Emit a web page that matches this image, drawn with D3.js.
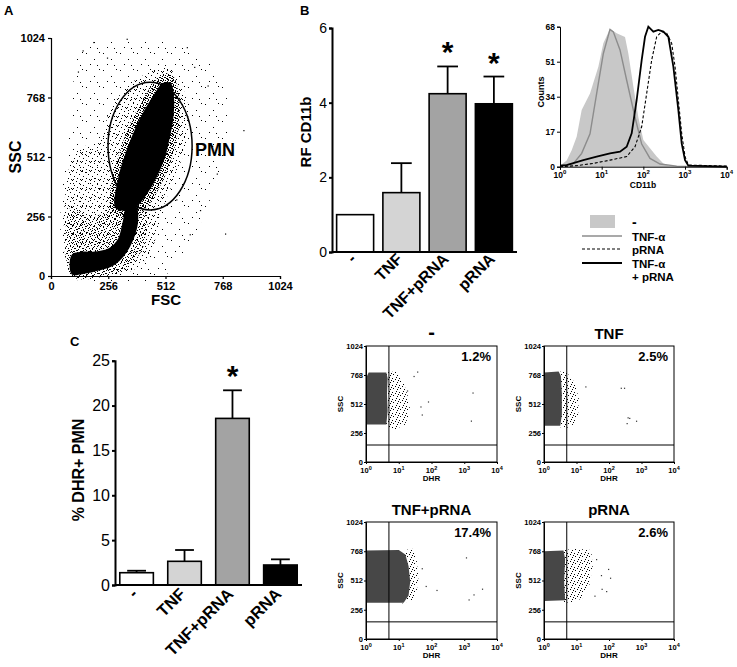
<!DOCTYPE html>
<html>
<head>
<meta charset="utf-8">
<script src="https://cdn.jsdelivr.net/npm/d3@7"></script>
<style>
  body { margin: 0; background: #fff; }
  text { font-family: "Liberation Sans", Arial, sans-serif; fill: #000; }
</style>
</head>
<body>
<svg id="fig" width="737" height="667"></svg>
<script>
// ---------- data ----------
var groups = ['-', 'TNF', 'TNF+pRNA', 'pRNA'];

// B: relative fluorescence CD11b (mean, SEM up)
var rfCd11b = [1.0, 1.59, 4.24, 3.97];
var rfCd11bErr = [0, 0.79, 0.73, 0.73];
var rfSig = [false, false, true, true];

// C: % DHR+ PMN
var dhrPct = [1.37, 2.64, 18.57, 2.23];
var dhrErr = [0.22, 1.26, 3.13, 0.63];
var dhrSig = [false, false, true, false];

// A: FSC / SSC events (contours in data units) and PMN gate [cx, cy, rx, ry]
var pmnGate = [443, 559, 188, 275];
var aCore = [[290,290],[300,420],[330,520],[370,620],[410,700],[460,780],[500,830],[535,830],
             [550,770],[547,680],[530,590],[510,510],[470,420],[420,340],[370,290]];
var aInner = [[270,280],[275,430],[310,540],[350,650],[400,740],[450,820],[500,870],[545,860],
              [570,790],[575,680],[560,580],[530,480],[490,390],[440,310],[380,260],[320,255]];
var aTail = [[92,8],[92,90],[140,105],[200,105],[260,120],[300,160],[320,230],[340,300],[380,300],
             [390,240],[370,160],[330,90],[280,45],[200,20],[140,8]];
var aLower = [[92,0],[92,300],[180,250],[260,300],[300,380],[350,350],[420,300],[430,200],
              [400,100],[330,30],[250,0]];
var aLeft = [[92,2],[92,500],[160,560],[240,480],[300,380],[330,200],[310,80],[200,15]];
var aHalo = [[92,4],[92,327],[130,470],[219,584],[264,713],[338,813],[428,871],[517,899],
             [562,856],[607,756],[607,584],[562,441],[502,298],[473,183],[443,97],[368,26],[219,4]];
var aSparse = [[92,0],[92,700],[150,990],[400,1010],[600,990],[760,850],[790,600],[700,300],[600,100],[500,0]];
var aOutliers = [[778,183],[666,284],[860,628],[741,441],[607,985],[338,1021],[189,1007],[141,971],
                 [700,820],[640,900],[250,940],[120,880],[720,560],[560,330],[620,180]];

// B inset: CD11b histograms, [log10 CD11b, counts]
var histCtrl = [[0,0.5],[0.16,3],[0.28,8],[0.4,14.6],[0.52,27.5],[0.72,35.6],[0.92,48.6],[1.04,60],
                [1.2,67],[1.36,64.8],[1.56,63],[1.64,55],[1.76,38.9],[1.88,24],[2.0,13],[2.16,9],
                [2.32,5],[2.48,1.6],[2.64,0.3],[2.8,0]];
var histTnf = [[0,0.5],[0.32,1.5],[0.52,6.5],[0.72,16],[0.88,35.6],[1.04,55],[1.2,66.7],[1.28,65.5],
               [1.44,56.7],[1.6,42],[1.8,24],[1.96,11],[2.16,4],[2.4,1.3],[2.8,0.3],[4,0]];
var histPrna = [[0,0],[0.4,0.5],[0.8,1.6],[1.2,3.2],[1.6,4.9],[1.8,9.7],[1.96,19.4],[2.08,35.6],
                [2.2,51.8],[2.32,63.1],[2.44,65.6],[2.56,64.8],[2.68,59.9],[2.76,48.6],[2.84,32.4],
                [2.92,16.2],[3.0,4.9],[3.08,0.8],[4,0.3]];
var histTnfPrna = [[0,0.5],[0.16,0.8],[0.56,3.2],[0.88,4.9],[1.2,6.5],[1.44,7.3],[1.6,9.7],[1.72,16.2],
                   [1.84,32.4],[1.96,51.8],[2.04,63.1],[2.12,68],[2.24,65.6],[2.36,66.4],[2.48,65.6],
                   [2.6,63.1],[2.72,48.6],[2.84,27.5],[2.92,11.3],[3.0,3.2],[3.08,0.5],[4,0]];
var histLegend = ['-', 'TNF-\u03b1', 'pRNA', 'TNF-\u03b1', '+ pRNA'];

// C: DHR / SSC dot plots, [log10 DHR, SSC]
var dotTitles = ['-', 'TNF', 'TNF+pRNA', 'pRNA'];
var dotPct = ['1.2%', '2.5%', '17.4%', '2.6%'];
var dotGate = [0.7, 150];
var dotDense = [
  [[0,330],[0,740],[0.08,790],[0.62,790],[0.66,740],[0.64,600],[0.66,450],[0.62,330]],
  [[0,320],[0,790],[0.45,800],[0.52,760],[0.55,600],[0.55,420],[0.5,320]],
  [[0,318],[0,774],[1.0,780],[1.2,740],[1.3,640],[1.35,500],[1.3,380],[1.15,318]],
  [[0,333],[0,768],[0.6,775],[0.65,700],[0.62,500],[0.65,340]]
];
var dotSpread = [
  [[0.55,320],[0.6,790],[0.9,800],[1.15,700],[1.3,560],[1.35,450],[1.2,330],[0.9,290]],
  [[0.45,310],[0.5,800],[0.7,790],[0.95,700],[1.07,560],[1.05,420],[0.9,330],[0.7,300]],
  [[1.1,310],[1.2,780],[1.45,790],[1.55,680],[1.6,540],[1.55,420],[1.4,340]],
  [[0.55,320],[0.6,780],[1.0,790],[1.45,780],[1.5,640],[1.4,480],[1.2,360],[0.9,320]]
];
var dotOutliers = [
  [[3.25,614],[3.2,366],[1.89,535],[1.56,799],[1.25,632],[1.66,491],[1.45,760],[1.7,420]],
  [[1.27,668],[2.36,656],[2.46,656],[2.57,395],[2.62,390],[2.83,365],[2.54,344]],
  [[3.05,715],[3.54,441],[3.13,347],[3.28,391],[2.15,430],[1.82,465],[1.7,620]],
  [[1.97,614],[1.77,440],[1.91,420],[2.03,537],[1.6,700],[1.75,560],[1.55,380]]
];

// ---------- setup ----------
var svg = d3.select('#fig');
var defs = svg.append('defs');
var barFill = ['#fff', '#d4d4d4', '#a3a3a3', '#000'];
var plain = d3.format('d');

// stipple patterns standing in for event density
function stipple(id, size, dots) {
  var p = defs.append('pattern').attr('id', id)
    .attr('patternUnits', 'userSpaceOnUse')
    .attr('width', size).attr('height', size);
  dots.forEach(function(d) {
    p.append('rect').attr('x', d[0]).attr('y', d[1])
      .attr('width', 1).attr('height', 1).attr('fill', '#000');
  });
}
stipple('stA0', 5, [[0,0],[2,1],[4,2],[1,3],[3,4],[0,2],[3,0],[2,3]]);
stipple('stA1', 7, [[0,0],[3,1],[5,3],[1,4],[4,6],[6,5],[2,2]]);
stipple('stA2', 9, [[0,0],[4,1],[7,3],[2,5],[5,7],[8,8],[1,8]]);
stipple('stA3', 17, [[1,2],[9,8],[14,1],[5,13],[12,14]]);
stipple('stD', 7, [[0,0],[3,1],[5,4],[1,3],[4,6],[6,2]]);

function label(g, x, y, txt, size, opts) {
  opts = opts || {};
  var t = g.append('text').attr('x', x).attr('y', y)
    .attr('font-size', size + 'px')
    .attr('font-weight', opts.weight || 'bold')
    .attr('text-anchor', opts.anchor || 'start')
    .text(txt);
  if (opts.rotate) t.attr('transform', 'rotate(' + opts.rotate + ',' + x + ',' + y + ')');
  return t;
}

function styleAxis(g, size, weight, width) {
  g.selectAll('path, line').attr('stroke', '#000').attr('stroke-width', width || 1);
  g.selectAll('text').attr('font-size', size + 'px').attr('font-weight', weight)
    .attr('font-family', '"Liberation Sans", Arial, sans-serif').attr('fill', '#000');
}

// ---------- panel A ----------
var gA = svg.append('g');
var ax = d3.scaleLinear().domain([0, 1024]).range([51, 280]);
var ay = d3.scaleLinear().domain([0, 1024]).range([276, 38]);
var blob = d3.line().x(function(d) { return ax(d[0]); }).y(function(d) { return ay(d[1]); })
  .curve(d3.curveCatmullRomClosed);

gA.append('path').datum(aSparse).attr('d', blob).attr('fill', 'url(#stA3)');
gA.append('path').datum(aHalo).attr('d', blob).attr('fill', 'url(#stA2)');
gA.append('path').datum(aLeft).attr('d', blob).attr('fill', 'url(#stA2)');
gA.append('path').datum(aLower).attr('d', blob).attr('fill', 'url(#stA1)');
gA.append('path').datum(aInner).attr('d', blob).attr('fill', 'url(#stA0)');
gA.append('path').datum(aTail).attr('d', blob).attr('fill', '#000');
gA.append('path').datum(aCore).attr('d', blob).attr('fill', '#000');
gA.selectAll('.out').data(aOutliers).enter().append('rect')
  .attr('x', function(d) { return ax(d[0]); }).attr('y', function(d) { return ay(d[1]); })
  .attr('width', 1.2).attr('height', 1.2).attr('fill', '#000');

gA.append('ellipse')
  .attr('cx', ax(pmnGate[0])).attr('cy', ay(pmnGate[1]))
  .attr('rx', ax(pmnGate[2]) - ax(0)).attr('ry', ay(0) - ay(pmnGate[3]))
  .attr('fill', 'none').attr('stroke', '#000').attr('stroke-width', 1.5);

var aTicks = [0, 256, 512, 768, 1024];
gA.append('g').attr('transform', 'translate(0,276)')
  .call(d3.axisBottom(ax).tickValues(aTicks).tickFormat(plain).tickSize(3).tickPadding(3))
  .call(styleAxis, 11, 'bold', 1.2);
gA.append('g').attr('transform', 'translate(51,0)')
  .call(d3.axisLeft(ay).tickValues(aTicks).tickFormat(plain).tickSize(3).tickPadding(3))
  .call(styleAxis, 11, 'bold', 1.2);
label(gA, 166, 305, 'FSC', 15, {anchor: 'middle'});
label(gA, 21, 157, 'SSC', 16, {anchor: 'middle', rotate: -90});
label(gA, 195, 156, 'PMN', 18);
label(svg, 4, 15, 'A', 13);

// ---------- bar chart helper ----------
function barChart(g, o) {
  var x = d3.scaleBand().domain(groups).range(o.xr).paddingInner(o.pad).paddingOuter(o.padOut);
  var y = d3.scaleLinear().domain([0, o.max]).range(o.yr);
  var bw = x.bandwidth();
  groups.forEach(function(grp, i) {
    var cx = x(grp) + bw / 2;
    if (o.err[i] > 0) {
      g.append('line').attr('x1', cx).attr('x2', cx)
        .attr('y1', y(o.vals[i])).attr('y2', y(o.vals[i] + o.err[i]))
        .attr('stroke', '#000').attr('stroke-width', 1.8);
      g.append('line').attr('x1', cx - bw * 0.28).attr('x2', cx + bw * 0.28)
        .attr('y1', y(o.vals[i] + o.err[i])).attr('y2', y(o.vals[i] + o.err[i]))
        .attr('stroke', '#000').attr('stroke-width', 1.8);
    }
    g.append('rect').attr('x', x(grp)).attr('width', bw)
      .attr('y', y(o.vals[i])).attr('height', y(0) - y(o.vals[i]))
      .attr('fill', barFill[i]).attr('stroke', '#000').attr('stroke-width', 1.6);
    if (o.sig[i]) {
      label(g, cx, y(o.vals[i] + o.err[i]) - 4, '*', 30, {anchor: 'middle'});
    }
    label(g, cx + 2, o.yr[0] + o.labDy, grp, o.labSize, {anchor: 'end', rotate: -45});
  });
  g.append('g').attr('transform', 'translate(' + o.xr[0] + ',0)')
    .call(d3.axisLeft(y).tickValues(o.ticks).tickFormat(plain).tickSize(3).tickPadding(2))
    .call(styleAxis, o.tickSize, 'normal', 2);
  g.append('line').attr('x1', o.xr[0]).attr('x2', o.xr[1])
    .attr('y1', o.yr[0]).attr('y2', o.yr[0]).attr('stroke', '#000').attr('stroke-width', 2);
  return y;
}

// ---------- panel B ----------
var gB = svg.append('g');
barChart(gB, {xr: [332, 517], yr: [252, 28], max: 6, ticks: [0, 2, 4, 6],
  vals: rfCd11b, err: rfCd11bErr, sig: rfSig, pad: 0.2, padOut: 0.1,
  labDy: 8, labSize: 16, tickSize: 14});
label(gB, 311, 132, 'RF CD11b', 15, {anchor: 'middle', rotate: -90});
label(svg, 300, 15, 'B', 13);

// ---------- panel B inset: histogram ----------
var gH = svg.append('g');
var hx = d3.scaleLog().domain([1, 1e4]).range([560, 726.7]);
var hy = d3.scaleLinear().domain([0, 68]).range([166.7, 26.7]);
var hxl = function(d) { return hx(Math.pow(10, d[0])); };
var area = d3.area().x(hxl).y0(hy(0)).y1(function(d) { return hy(d[1]); });
var line = d3.line().x(hxl).y(function(d) { return hy(d[1]); });

gH.append('path').datum(histCtrl).attr('d', area).attr('fill', '#c8c8c8');
gH.append('path').datum(histTnf).attr('d', line).attr('fill', 'none')
  .attr('stroke', '#8c8c8c').attr('stroke-width', 1.4);
gH.append('path').datum(histPrna).attr('d', line).attr('fill', 'none')
  .attr('stroke', '#000').attr('stroke-width', 1.1).attr('stroke-dasharray', '3,2');
gH.append('path').datum(histTnfPrna).attr('d', line).attr('fill', 'none')
  .attr('stroke', '#000').attr('stroke-width', 1.8);

gH.append('g').attr('transform', 'translate(0,166.7)')
  .call(d3.axisBottom(hx).tickValues([1, 10, 100, 1000, 10000]).tickFormat('').tickSize(3))
  .call(styleAxis, 8, 'bold', 1);
gH.append('g').attr('transform', 'translate(560,0)')
  .call(d3.axisLeft(hy).tickValues([0, 17, 34, 51, 68]).tickSize(3).tickPadding(2))
  .call(styleAxis, 8.5, 'bold', 1);
[0, 1, 2, 3, 4].forEach(function(e) {
  var t = label(gH, hx(Math.pow(10, e)), 178, '10', 8.5, {anchor: 'middle'});
  t.append('tspan').attr('dy', -4).attr('font-size', '6px').text(e);
});
label(gH, 643, 188, 'CD11b', 8.5, {anchor: 'middle'});
label(gH, 544, 92, 'Counts', 9, {anchor: 'middle', rotate: -90});

// legend
gH.append('rect').attr('x', 590).attr('y', 215).attr('width', 25).attr('height', 13).attr('fill', '#c8c8c8');
gH.append('line').attr('x1', 582).attr('x2', 622).attr('y1', 236).attr('y2', 236)
  .attr('stroke', '#8c8c8c').attr('stroke-width', 1.4);
gH.append('line').attr('x1', 582).attr('x2', 622).attr('y1', 249).attr('y2', 249)
  .attr('stroke', '#000').attr('stroke-width', 1.1).attr('stroke-dasharray', '3,2');
gH.append('line').attr('x1', 582).attr('x2', 622).attr('y1', 263).attr('y2', 263)
  .attr('stroke', '#000').attr('stroke-width', 1.8);
label(gH, 632, 227, histLegend[0], 14);
label(gH, 632, 241, histLegend[1], 11.5);
label(gH, 632, 254, histLegend[2], 11.5);
label(gH, 632, 268, histLegend[3], 11.5);
label(gH, 632, 281, histLegend[4], 11.5);

// ---------- panel C ----------
var gC = svg.append('g');
barChart(gC, {xr: [115, 302], yr: [585, 360.7], max: 25, ticks: [0, 5, 10, 15, 20, 25],
  vals: dhrPct, err: dhrErr, sig: dhrSig, pad: 0.3, padOut: 0.1,
  labDy: 10, labSize: 16.5, tickSize: 16});
label(gC, 84, 470, '% DHR+ PMN', 16, {anchor: 'middle', rotate: -90});
label(svg, 70, 346, 'C', 13);

// ---------- panel C: dot plots ----------
var frames = [[366, 497, 346, 462], [544, 674, 346, 462], [366, 497, 522, 639], [544, 674, 522, 639]];
dotTitles.forEach(function(title, i) {
  var f = frames[i];
  var g = svg.append('g');
  var dx = d3.scaleLinear().domain([0, 4]).range([f[0], f[1]]);
  var dy = d3.scaleLinear().domain([0, 1024]).range([f[3], f[2]]);
  var poly = d3.line().x(function(d) { return dx(d[0]); }).y(function(d) { return dy(d[1]); })
    .curve(d3.curveLinearClosed);
  var clipId = 'clip' + i;
  defs.append('clipPath').attr('id', clipId).append('rect')
    .attr('x', f[0]).attr('y', f[2]).attr('width', f[1] - f[0]).attr('height', f[3] - f[2]);
  var inner = g.append('g').attr('clip-path', 'url(#' + clipId + ')');
  inner.append('path').datum(dotSpread[i]).attr('d', poly).attr('fill', 'url(#stD)');
  inner.append('path').datum(dotDense[i]).attr('d', poly).attr('fill', '#474747');
  inner.selectAll('.o').data(dotOutliers[i]).enter().append('rect')
    .attr('x', function(d) { return dx(d[0]); }).attr('y', function(d) { return dy(d[1]); })
    .attr('width', 1.2).attr('height', 1.2).attr('fill', '#333');

  // gate lines
  g.append('line').attr('x1', dx(dotGate[0])).attr('x2', dx(dotGate[0]))
    .attr('y1', f[2]).attr('y2', f[3]).attr('stroke', '#000').attr('stroke-width', 1);
  g.append('line').attr('x1', f[0]).attr('x2', f[1])
    .attr('y1', dy(dotGate[1])).attr('y2', dy(dotGate[1])).attr('stroke', '#000').attr('stroke-width', 1);
  g.append('rect').attr('x', f[0]).attr('y', f[2]).attr('width', f[1] - f[0]).attr('height', f[3] - f[2])
    .attr('fill', 'none').attr('stroke', '#000').attr('stroke-width', 1);

  g.append('g').attr('transform', 'translate(' + f[0] + ',0)')
    .call(d3.axisLeft(dy).tickValues([0, 256, 512, 768, 1024]).tickFormat(plain).tickSize(2).tickPadding(1))
    .call(styleAxis, 7.5, 'bold', 1);
  g.append('g').attr('transform', 'translate(0,' + f[3] + ')')
    .call(d3.axisBottom(dx).tickValues([0, 1, 2, 3, 4]).tickFormat('').tickSize(2))
    .call(styleAxis, 7.5, 'bold', 1);
  [0, 1, 2, 3, 4].forEach(function(e) {
    var t = label(g, dx(e), f[3] + 11, '10', 7.5, {anchor: 'middle'});
    t.append('tspan').attr('dy', -3.5).attr('font-size', '5.5px').text(e);
  });
  label(g, (f[0] + f[1]) / 2, f[3] + 19, 'DHR', 8, {anchor: 'middle'});
  label(g, f[0] - 23, (f[2] + f[3]) / 2, 'SSC', 8, {anchor: 'middle', rotate: -90});
  label(g, (f[0] + f[1]) / 2, f[2] - 7, title, title === '-' ? 20 : 15, {anchor: 'middle'});
  label(g, f[1] - 6, f[2] + 15, dotPct[i], 13, {anchor: 'end'});
});
</script>
</body>
</html>
